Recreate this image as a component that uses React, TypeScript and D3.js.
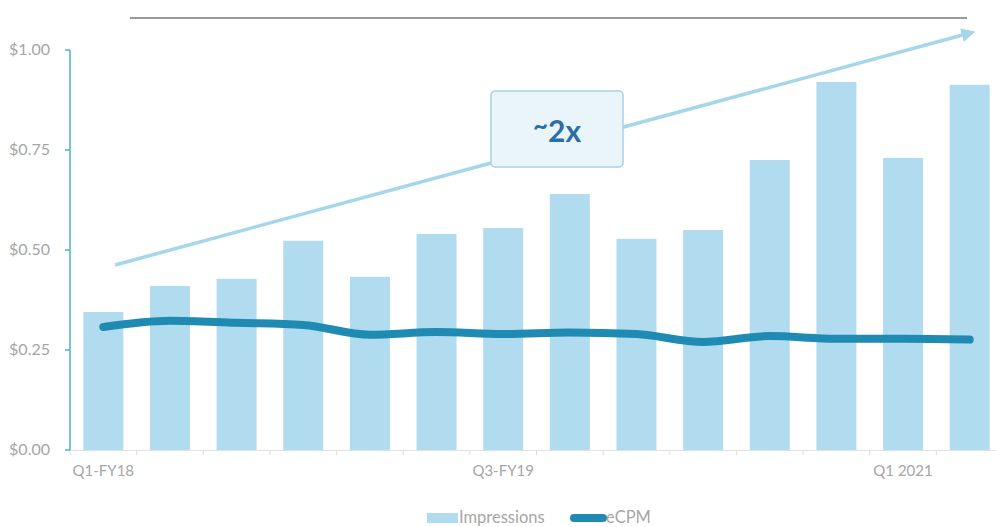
import React from "react";
import * as d3 from "d3";

const quarters = ["Q1-FY18","Q2-FY18","Q3-FY18","Q4-FY18","Q1-FY19","Q2-FY19","Q3-FY19","Q4-FY19","Q1-FY20","Q2-FY20","Q3-FY20","Q4-FY20","Q1 2021","Q2 2021"];
const shownLabels = ["Q1-FY18","Q3-FY19","Q1 2021"];
const impressions = [0.345,0.41,0.428,0.523,0.433,0.54,0.555,0.64,0.528,0.55,0.725,0.92,0.73,0.913];
const ecpm = [0.3075,0.323,0.318,0.3125,0.288,0.295,0.29,0.294,0.29,0.27,0.285,0.278,0.278,0.276];
const yTicks = [0,0.25,0.5,0.75,1.0];
const yTickLabels = ["$0.00","$0.25","$0.50","$0.75","$1.00"];

const W = 996, H = 527;
const left = 70, right = 1003, top = 50, bottom = 450;

export default function App() {
  const x = d3.scaleBand<string>().domain(quarters).range([left, right]).paddingInner(0.4).paddingOuter(0.2);
  const y = d3.scaleLinear().domain([0, 1]).range([bottom, top]);
  const line = d3.line<number>()
    .x((_, i) => (x(quarters[i]) as number) + x.bandwidth() / 2)
    .y(d => y(d))
    .curve(d3.curveMonotoneX);
  const step = x.step();
  const font = "Lato, 'Open Sans', sans-serif";
  const txt = "#a6a6a6";
  return (
    <svg width={W} height={H} style={{ position: "absolute", left: 0, top: 0, background: "#fff" }}>
      <defs>
        <marker id="arr" viewBox="0 0 10 10" refX="6" refY="5" markerWidth="4" markerHeight="4" orient="auto">
          <path d="M0,0 L10,5 L0,10 z" fill="#a6d6ea" />
        </marker>
      </defs>
      <line x1={130} x2={967} y1={18} y2={18} stroke="#9a9a9a" strokeWidth={2} />
      {impressions.map((v, i) => (
        <rect key={i} x={x(quarters[i])} y={y(v)} width={x.bandwidth()} height={y(0) - y(v)} fill="#b1dcef" />
      ))}
      <line x1={left} x2={right} y1={bottom + 0.5} y2={bottom + 0.5} stroke="#e2e2e2" strokeWidth={1} />
      {quarters.map((q, i) => (
        <line key={q} x1={left + i * step} x2={left + i * step} y1={bottom} y2={bottom + 5} stroke="#dcdcdc" />
      ))}
      <line x1={left} x2={left} y1={top} y2={bottom} stroke="#49b6cc" strokeWidth={1.5} />
      {yTicks.map((t, i) => (
        <g key={t}>
          <line x1={left - 5} x2={left} y1={y(t)} y2={y(t)} stroke="#49b6cc" strokeWidth={1.5} />
          <text x={50} y={y(t) + 5} textAnchor="end" fontSize={16} fill={txt} fontFamily={font}>{yTickLabels[i]}</text>
        </g>
      ))}
      {shownLabels.map(l => (
        <text key={l} x={(x(l) as number) + x.bandwidth() / 2} y={476} textAnchor="middle" fontSize={15} fill={txt} fontFamily={font}>{l}</text>
      ))}
      <path d={line(ecpm) || ""} fill="none" stroke="#1f8bb2" strokeWidth={8} strokeLinecap="round" strokeLinejoin="round" />
      <line x1={115} y1={265} x2={970} y2={33} stroke="#a6d6ea" strokeWidth={3.5} markerEnd="url(#arr)" />
      <rect x={491} y={91} width={132} height={76} rx={4} fill="#eaf5fa" stroke="#a9d2e2" strokeWidth={1.5} />
      <text x={557} y={142} textAnchor="middle" fontWeight="bold" fill="#2c6fa8" fontFamily={font}>
        <tspan fontSize={26} dy={-7}>~</tspan><tspan fontSize={30} dy={7}>2x</tspan>
      </text>
      <rect x={427} y={513} width={31} height={10} fill="#b1dcef" />
      <text x={459} y={523} fontSize={16.5} fill={txt} fontFamily={font}>Impressions</text>
      <line x1={574} x2={603} y1={518} y2={518} stroke="#1f8bb2" strokeWidth={8} strokeLinecap="round" />
      <text x={606} y={523} fontSize={16.5} fill={txt} fontFamily={font}>eCPM</text>
    </svg>
  );
}
